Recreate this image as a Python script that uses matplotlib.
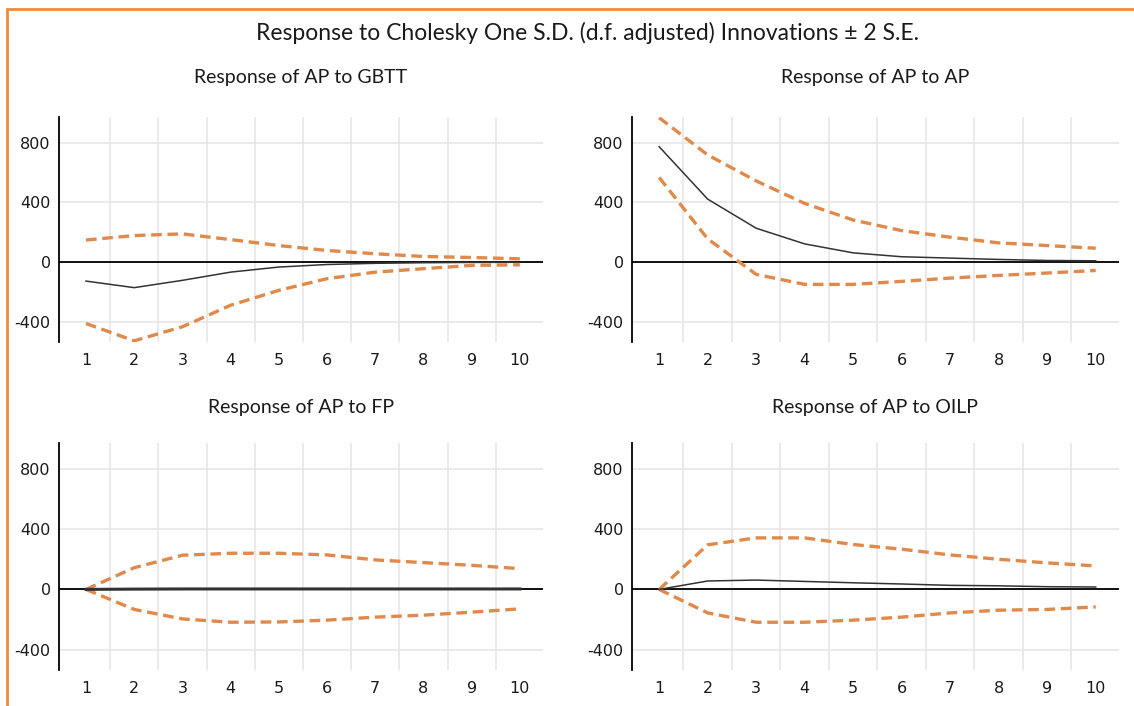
import numpy as np
import matplotlib.pyplot as plt
from matplotlib.patches import Rectangle

plt.rcParams['axes.unicode_minus'] = False

# impulse responses of AP, periods 1..10
periods = np.arange(1, 11)

gbtt_resp = [-127, -171, -122, -67, -33, -16, -8, -4, -2, -1]
gbtt_upper = [148, 178, 189, 151, 111, 78, 56, 38, 31, 22]
gbtt_lower = [-411, -527, -433, -289, -189, -111, -67, -44, -22, -18]

ap_resp = [773, 422, 227, 122, 62, 36, 27, 18, 11, 9]
ap_upper = [967, 718, 544, 393, 282, 211, 167, 129, 111, 93]
ap_lower = [567, 156, -82, -149, -149, -129, -107, -89, -73, -56]

fp_resp = [0, 2, 3, 3, 3, 3, 3, 3, 3, 3]
fp_upper = [0, 144, 227, 240, 240, 229, 196, 178, 160, 138]
fp_lower = [0, -133, -196, -218, -216, -204, -184, -171, -151, -129]

oilp_resp = [0, 56, 62, 53, 44, 36, 27, 24, 18, 16]
oilp_upper = [0, 296, 342, 342, 298, 267, 229, 200, 176, 156]
oilp_lower = [0, -156, -218, -218, -204, -184, -156, -138, -133, -116]

titles = ["Response of AP to GBTT", "Response of AP to AP",
          "Response of AP to FP", "Response of AP to OILP"]
responses = [gbtt_resp, ap_resp, fp_resp, oilp_resp]
uppers = [gbtt_upper, ap_upper, fp_upper, oilp_upper]
lowers = [gbtt_lower, ap_lower, fp_lower, oilp_lower]

W, H = 1134, 706
fig = plt.figure(figsize=(W / 100, H / 100), dpi=100)

# orange frame around the whole graph
fig.patches.append(Rectangle((7 / W, -0.05), 1.1, 1 - 9 / H + 0.05,
                             transform=fig.transFigure, fill=False,
                             edgecolor="#F08A3C", linewidth=2))

fig.text(588 / W, 1 - 33 / H, "Response to Cholesky One S.D. (d.f. adjusted) Innovations \u00b1 2 S.E.",
         ha="center", va="center", fontsize=16.5, family="Lato", color="#1a1a1a")

# axes boxes in pixels: left, right, top, bottom
boxes = [(59, 543, 117, 342), (632, 1119, 117, 342),
         (59, 543, 443, 670), (632, 1119, 443, 670)]
title_y = [78, 78, 407, 407]

orange = "#E0894A"

for i in range(4):
    l, r, t, b = boxes[i]
    ax = fig.add_axes([l / W, 1 - b / H, (r - l) / W, (b - t) / H])
    ax.set_xlim(0.44, 10.48)
    ax.set_ylim(-535, 972)
    ax.set_axisbelow(True)

    ax.plot(periods, uppers[i], color=orange, lw=2.4, dashes=(3.2, 1.7), zorder=3)
    ax.plot(periods, lowers[i], color=orange, lw=2.4, dashes=(3.2, 1.7), zorder=3)
    ax.plot(periods, responses[i], color="#333333", lw=1.1 if i != 2 else 2.2, zorder=3)
    ax.axhline(0, color="black", lw=1.3, zorder=2)

    ax.set_yticks([-400, 0, 400, 800])
    ax.set_xticks(periods)
    ax.set_xticks(np.arange(1.5, 10, 1), minor=True)
    ax.grid(False)
    ax.grid(True, which="minor", axis="x", color="#e6e6e6", lw=1.2)
    ax.grid(True, which="major", axis="y", color="#e6e6e6", lw=1.2)
    ax.tick_params(which="both", length=0)
    ax.tick_params(axis="y", labelsize=11.5, pad=6, labelcolor="#1a1a1a")
    ax.tick_params(axis="x", labelsize=11.5, pad=8, labelcolor="#1a1a1a")
    for lab in ax.get_xticklabels() + ax.get_yticklabels():
        lab.set_family("DejaVu Sans")
    for s in ["top", "right", "bottom"]:
        ax.spines[s].set_visible(False)
    ax.spines["left"].set_linewidth(1.3)

    fig.text((l + r) / 2 / W, 1 - title_y[i] / H, titles[i], ha="center", va="center",
             fontsize=14, family="Lato", color="#1a1a1a")

fig.savefig("out.png", dpi=100)
